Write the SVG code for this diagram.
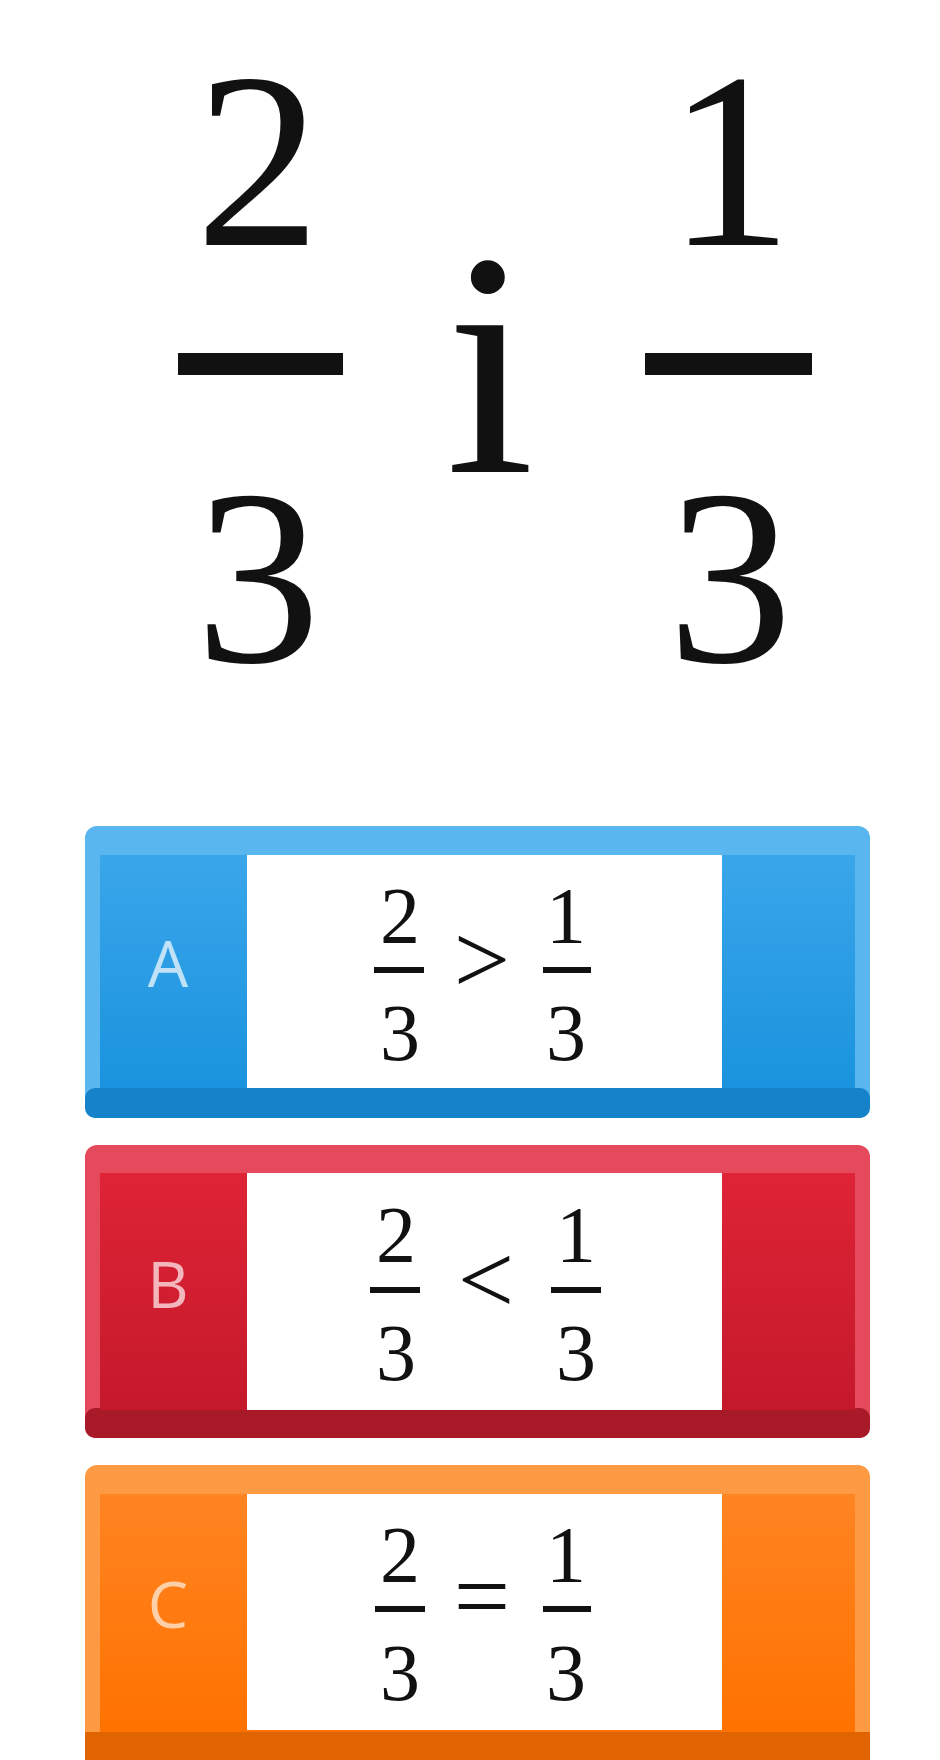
<svg xmlns="http://www.w3.org/2000/svg" width="940" height="1760" viewBox="0 0 940 1760">
<defs>
<linearGradient id="gA" x1="0" y1="0" x2="0" y2="1"><stop offset="0" stop-color="#3aa6ea"/><stop offset="1" stop-color="#1a93de"/></linearGradient>
<linearGradient id="gB" x1="0" y1="0" x2="0" y2="1"><stop offset="0" stop-color="#de2436"/><stop offset="1" stop-color="#c4192b"/></linearGradient>
<linearGradient id="gC" x1="0" y1="0" x2="0" y2="1"><stop offset="0" stop-color="#ff8422"/><stop offset="1" stop-color="#ff7200"/></linearGradient>
</defs>
<style>
.big{font-family:"Liberation Serif","DejaVu Serif",serif;font-size:250px;fill:#111;text-anchor:middle}
.sm{font-family:"Liberation Serif","DejaVu Serif",serif;font-size:80px;fill:#111;text-anchor:middle}
.lt{font-family:"Open Sans","Liberation Sans",sans-serif;font-size:64px;text-anchor:middle}
.w{fill:#fff}
</style>
<rect width="940" height="1760" fill="#fff"/>
<g id="question">
<text class="big" x="258" y="245">2</text>
<rect x="178" y="353" width="165" height="22" fill="#111"/>
<text class="big" x="258" y="662">3</text>
<text class="big" x="490" y="472" style="font-size:320px">i</text>
<text class="big" x="730" y="245">1</text>
<rect x="645" y="353" width="167" height="22" fill="#111"/>
<text class="big" x="730" y="662">3</text>
</g>
<g id="optionA">
<rect x="85" y="826" width="785" height="292" rx="12" fill="#5ab6ee"/>
<rect x="85" y="1088" width="785" height="30" rx="10" fill="#1682ca"/>
<rect x="100" y="855" width="755" height="233" fill="url(#gA)"/>
<rect x="247" y="855" width="475" height="233" class="w"/>
<text class="lt" x="168" y="987" fill="#bfe2f8">A</text>
<text class="sm" x="400" y="943">2</text><rect x="374" y="967" width="50" height="6" fill="#111"/><text class="sm" x="400" y="1060">3</text>
<text class="sm" x="482" y="993" style="font-size:100px">&gt;</text>
<text class="sm" x="566" y="943">1</text><rect x="543" y="967" width="48" height="6" fill="#111"/><text class="sm" x="566" y="1060">3</text>
</g>
<g id="optionB">
<rect x="85" y="1145" width="785" height="293" rx="12" fill="#e44a5b"/>
<rect x="85" y="1408" width="785" height="30" rx="10" fill="#a81a28"/>
<rect x="100" y="1173" width="755" height="237" fill="url(#gB)"/>
<rect x="247" y="1173" width="475" height="237" class="w"/>
<text class="lt" x="168" y="1308" fill="#f4b6bd">B</text>
<text class="sm" x="396" y="1262">2</text><rect x="370" y="1287" width="50" height="6" fill="#111"/><text class="sm" x="396" y="1380">3</text>
<text class="sm" x="486" y="1313" style="font-size:100px">&lt;</text>
<text class="sm" x="576" y="1262">1</text><rect x="551" y="1287" width="50" height="6" fill="#111"/><text class="sm" x="576" y="1380">3</text>
</g>
<g id="optionC">
<rect x="85" y="1465" width="785" height="295" rx="12" fill="#ff9a44"/>
<rect x="85" y="1732" width="785" height="28" fill="#e06400"/>
<rect x="100" y="1494" width="755" height="238" fill="url(#gC)"/>
<rect x="247" y="1494" width="475" height="236" class="w"/>
<text class="lt" x="168" y="1628" fill="#ffd0a8">C</text>
<text class="sm" x="400" y="1582">2</text><rect x="375" y="1606" width="50" height="6" fill="#111"/><text class="sm" x="400" y="1700">3</text>
<text class="sm" x="482" y="1630" style="font-size:100px">=</text>
<text class="sm" x="566" y="1582">1</text><rect x="543" y="1606" width="48" height="6" fill="#111"/><text class="sm" x="566" y="1700">3</text>
</g>
<g id="connectors"/>
</svg>
